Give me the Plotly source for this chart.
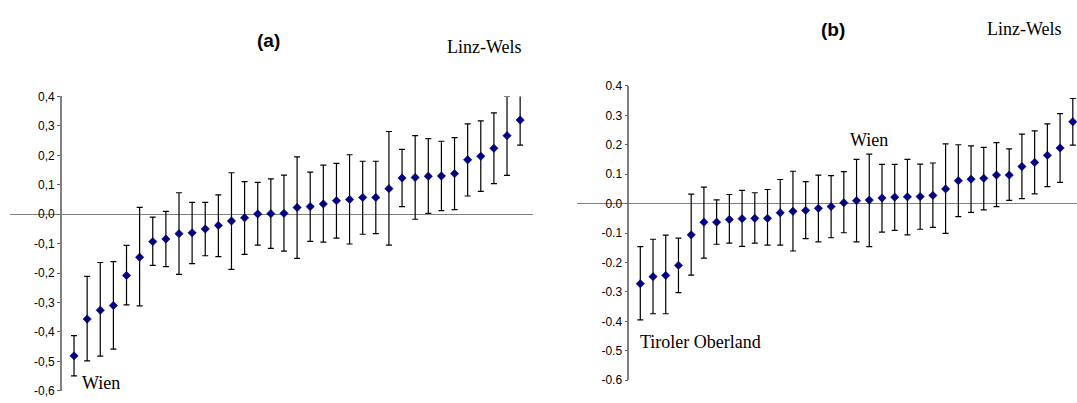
import plotly.graph_objects as go

W, H = 1077, 403

# Regional effects, ranked, with 95% interval bounds -- panel (a)
regions_a = list(range(1, 36))
est_a = [-0.481, -0.356, -0.326, -0.310, -0.208, -0.146, -0.093, -0.084, -0.066, -0.063,
         -0.050, -0.038, -0.023, -0.012, 0.001, 0.002, 0.003, 0.023, 0.026, 0.035,
         0.046, 0.050, 0.057, 0.057, 0.087, 0.123, 0.125, 0.129, 0.130, 0.138,
         0.185, 0.197, 0.224, 0.267, 0.320]
low_a = [-0.549, -0.498, -0.482, -0.458, -0.308, -0.311, -0.174, -0.178, -0.204, -0.168,
         -0.141, -0.144, -0.187, -0.136, -0.105, -0.116, -0.125, -0.150, -0.092, -0.095,
         -0.081, -0.101, -0.068, -0.066, -0.105, 0.026, -0.017, 0.003, 0.012, 0.016,
         0.062, 0.078, 0.104, 0.132, 0.235]
high_a = [-0.412, -0.211, -0.164, -0.161, -0.106, 0.023, -0.010, 0.010, 0.073, 0.040,
          0.040, 0.066, 0.141, 0.111, 0.108, 0.120, 0.133, 0.195, 0.143, 0.167,
          0.173, 0.202, 0.180, 0.180, 0.281, 0.220, 0.267, 0.257, 0.248, 0.260,
          0.307, 0.317, 0.344, 0.400, 0.407]

# Panel (b)
regions_b = list(range(1, 36))
est_b = [-0.272, -0.248, -0.244, -0.210, -0.106, -0.063, -0.063, -0.054, -0.051, -0.050,
         -0.050, -0.031, -0.026, -0.023, -0.016, -0.010, 0.003, 0.010, 0.012, 0.019,
         0.022, 0.023, 0.024, 0.028, 0.050, 0.078, 0.083, 0.086, 0.097, 0.097,
         0.126, 0.140, 0.164, 0.189, 0.278]
low_b = [-0.395, -0.374, -0.374, -0.302, -0.243, -0.185, -0.138, -0.134, -0.145, -0.134,
         -0.141, -0.141, -0.161, -0.119, -0.130, -0.116, -0.099, -0.130, -0.146, -0.097,
         -0.091, -0.106, -0.087, -0.081, -0.101, -0.044, -0.030, -0.021, -0.010, 0.011,
         0.017, 0.033, 0.058, 0.072, 0.199]
high_b = [-0.146, -0.121, -0.107, -0.117, 0.032, 0.056, 0.013, 0.031, 0.045, 0.037,
          0.048, 0.082, 0.110, 0.075, 0.097, 0.095, 0.109, 0.150, 0.168, 0.133,
          0.133, 0.150, 0.134, 0.138, 0.203, 0.200, 0.196, 0.191, 0.207, 0.186,
          0.236, 0.247, 0.271, 0.306, 0.357]

tick_vals = [0.4, 0.3, 0.2, 0.1, 0.0, -0.1, -0.2, -0.3, -0.4, -0.5, -0.6]
tick_text_a = ["0,4", "0,3", "0,2", "0,1", "0,0", "-0,1", "-0,2", "-0,3", "-0,4", "-0,5", "-0,6"]
tick_text_b = ["0.4", "0.3", "0.2", "0.1", "0.0", "-0.1", "-0.2", "-0.3", "-0.4", "-0.5", "-0.6"]


def fx(px):
    return px / W


def fy(py):
    return 1 - py / H


def ci_trace(x, est, low, high, xa, ya):
    return go.Scatter(
        x=x, y=est, xaxis=xa, yaxis=ya, mode="markers",
        marker=dict(symbol="diamond", size=6.4, color="#000080",
                    line=dict(width=0.6, color="#000080")),
        error_y=dict(type="data", symmetric=False,
                     array=[h - e for h, e in zip(high, est)],
                     arrayminus=[e - l for e, l in zip(est, low)],
                     color="#000000", thickness=1.2, width=3),
        cliponaxis=False, showlegend=False, hoverinfo="skip",
    )


fig = go.Figure()
fig.add_trace(ci_trace(regions_a, est_a, low_a, high_a, "x", "y"))
fig.add_trace(ci_trace(regions_b, est_b, low_b, high_b, "x2", "y2"))

axis_font = dict(family="Liberation Sans, Arial, sans-serif", size=12, color="#000000")


def yaxis_cfg(dom_top, dom_bot, pos_px, labels):
    return dict(
        domain=[fy(dom_bot), fy(dom_top)], range=[-0.6, 0.4],
        anchor="free", position=fx(pos_px),
        showline=True, linecolor="#808080", linewidth=1.6,
        ticks="outside", ticklen=3, tickwidth=1, tickcolor="#606060",
        tickvals=tick_vals, ticktext=labels, tickfont=axis_font,
        showgrid=False, zeroline=True, zerolinecolor="#808080", zerolinewidth=1.3,
        fixedrange=True,
    )


fig.update_layout(
    width=W, height=H, margin=dict(l=0, r=0, t=0, b=0),
    paper_bgcolor="white", plot_bgcolor="rgba(0,0,0,0)",
    xaxis=dict(domain=[fx(10), fx(533)], range=[-3.88, 35.98], visible=False, anchor="y"),
    xaxis2=dict(domain=[fx(576.7), 1.0], range=[-4.0, 35.33], visible=False, anchor="y2"),
    yaxis=yaxis_cfg(92.7, 397.7, 61, tick_text_a),
    yaxis2=yaxis_cfg(81.7, 386.7, 628.3, tick_text_b),
)

serif = dict(family="Liberation Serif, Times New Roman, serif", size=18, color="#000000")
bold = dict(family="Liberation Sans, Arial, sans-serif", size=19, color="#000000")

labels = [
    ("<b>(a)</b>", 268, 35, bold),
    ("Linz-Wels", 484, 41, serif),
    ("Wien", 101, 390, serif),
    ("<b>(b)</b>", 833, 23, bold),
    ("Linz-Wels", 1024, 23, serif),
    ("Wien", 869, 138, serif),
    ("Tiroler Oberland", 700, 347, serif),
]
for text, px, py, font in labels:
    fig.add_annotation(text=text, x=fx(px), y=fy(py), xref="paper", yref="paper",
                       xanchor="center", yanchor="middle", showarrow=False, font=font)

fig.write_html("out.html")
